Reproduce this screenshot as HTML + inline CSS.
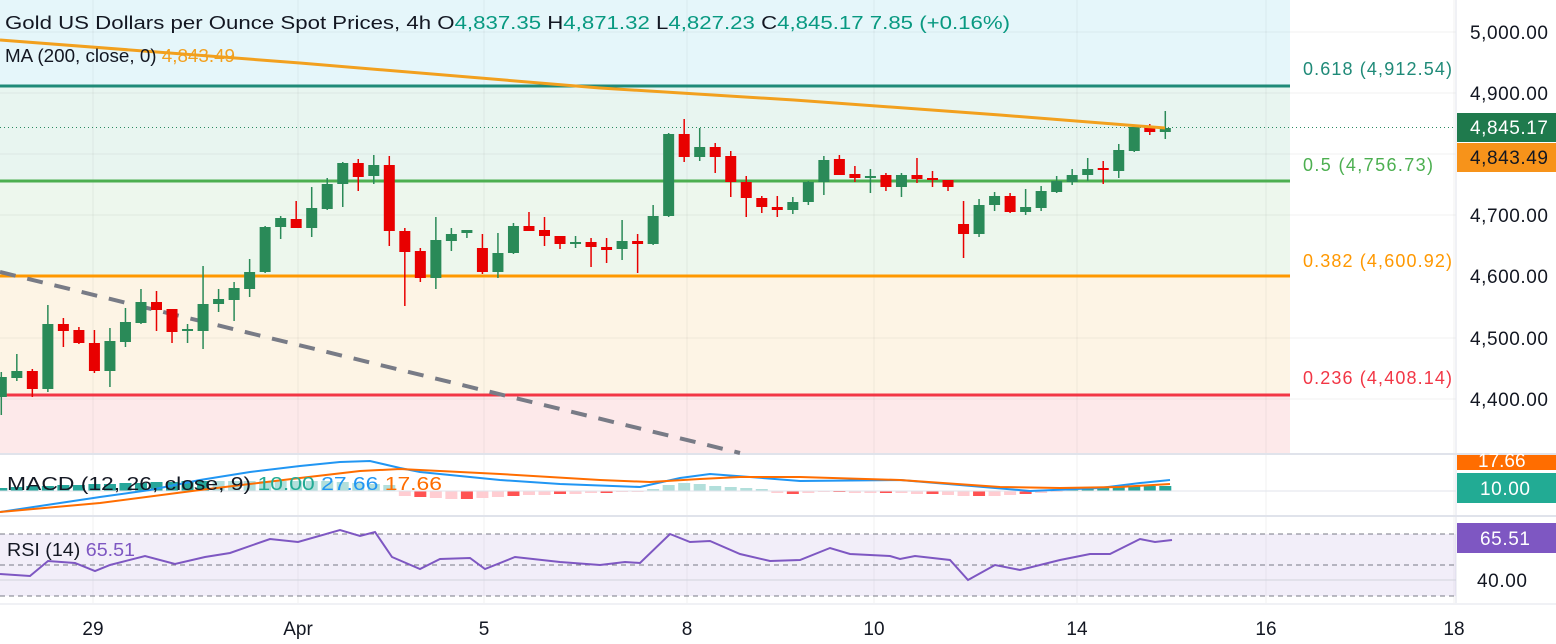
<!DOCTYPE html>
<html><head><meta charset="utf-8"><style>
body{margin:0;width:1556px;height:644px;overflow:hidden;background:#fff;font-family:"Liberation Sans",sans-serif}
svg{display:block}
</style></head><body>
<svg width="1556" height="644" xmlns="http://www.w3.org/2000/svg" font-family="Liberation Sans, sans-serif">
<rect x="0" y="0" width="1290" height="86" fill="#e5f6fa"/>
<rect x="0" y="86" width="1290" height="95" fill="#e8f5f0"/>
<rect x="0" y="181" width="1290" height="95" fill="#edf7ed"/>
<rect x="0" y="276" width="1290" height="118" fill="#fdf4e5"/>
<rect x="0" y="394" width="1290" height="59" fill="#fde9ea"/>
<g stroke="#000" stroke-opacity="0.05" stroke-width="1">
<line x1="93" y1="0" x2="93" y2="603"/><line x1="298" y1="0" x2="298" y2="603"/><line x1="484" y1="0" x2="484" y2="603"/><line x1="687" y1="0" x2="687" y2="603"/><line x1="874" y1="0" x2="874" y2="603"/><line x1="1077" y1="0" x2="1077" y2="603"/><line x1="1266" y1="0" x2="1266" y2="603"/><line x1="1454" y1="0" x2="1454" y2="603"/>
<line x1="0" y1="32" x2="1456" y2="32"/><line x1="0" y1="93" x2="1456" y2="93"/><line x1="0" y1="154" x2="1456" y2="154"/><line x1="0" y1="215" x2="1456" y2="215"/><line x1="0" y1="338" x2="1456" y2="338"/><line x1="0" y1="399" x2="1456" y2="399"/>
</g>
<line x1="1456" y1="0" x2="1456" y2="603" stroke="#e0e3eb"/>
<line x1="0" y1="454" x2="1556" y2="454" stroke="#e0e3eb" stroke-width="2"/>
<line x1="0" y1="516" x2="1556" y2="516" stroke="#e0e3eb" stroke-width="2"/>
<line x1="0" y1="604" x2="1556" y2="604" stroke="#e0e3eb"/>
<line x1="0" y1="86" x2="1290" y2="86" stroke="#1f8a78" stroke-width="3"/>
<line x1="0" y1="181" x2="1290" y2="181" stroke="#4caf50" stroke-width="3"/>
<line x1="0" y1="276" x2="1290" y2="276" stroke="#ff9800" stroke-width="3"/>
<line x1="0" y1="395" x2="1290" y2="395" stroke="#f23645" stroke-width="3"/>
<line x1="0" y1="127.5" x2="1456" y2="127.5" stroke="#2a8a60" stroke-dasharray="1,3"/>
<line x1="0" y1="272" x2="740" y2="453" stroke="#787b86" stroke-width="4" stroke-dasharray="16,12"/>
<g id="c"></g>
<path d="M0,40 L300,63 L600,88 L794,100 L1000,115 L1165,128" fill="none" stroke="#f2a01e" stroke-width="3"/>
<g font-size="18">
<text x="1303" y="75" fill="#1f8a78" textLength="149">0.618 (4,912.54)</text>
<text x="1303" y="171" fill="#4caf50" textLength="130">0.5 (4,756.73)</text>
<text x="1303" y="267" fill="#ff9800" textLength="149">0.382 (4,600.92)</text>
<text x="1303" y="384" fill="#f23645" textLength="149">0.236 (4,408.14)</text>
</g>
<g font-size="19" fill="#131722">
<text x="1470" y="39" textLength="78">5,000.00</text><text x="1470" y="100" textLength="78">4,900.00</text><text x="1470" y="222" textLength="78">4,700.00</text><text x="1470" y="283" textLength="78">4,600.00</text><text x="1470" y="345" textLength="78">4,500.00</text><text x="1470" y="406" textLength="78">4,400.00</text>
<text x="1477" y="587" textLength="50">40.00</text>
</g>
<rect x="1457" y="113" width="99" height="29" fill="#1f7a4d"/><text x="1470" y="134" font-size="19" fill="#fff" textLength="78">4,845.17</text>
<rect x="1457" y="143" width="99" height="29" fill="#f7931a"/><text x="1470" y="164" font-size="19" fill="#131722" textLength="78">4,843.49</text>
<rect x="1457" y="455" width="99" height="15" fill="#ff6d00"/><text x="1478" y="467" font-size="19" fill="#fff">17.66</text>
<rect x="1457" y="473" width="99" height="30" fill="#22ab94"/><text x="1480" y="495" font-size="19" fill="#fff" textLength="50">10.00</text>
<rect x="1457" y="523" width="99" height="30" fill="#7e57c2"/><text x="1480" y="545" font-size="19" fill="#fff" textLength="50">65.51</text>
<text x="5" y="29" font-size="18" fill="#131722" textLength="1005" lengthAdjust="spacingAndGlyphs">Gold US Dollars per Ounce Spot Prices, 4h  O<tspan fill="#089981">4,837.35</tspan>  H<tspan fill="#089981">4,871.32</tspan>  L<tspan fill="#089981">4,827.23</tspan>  C<tspan fill="#089981">4,845.17  7.85 (+0.16%)</tspan></text>
<text x="5" y="62" font-size="18" fill="#131722" textLength="230" lengthAdjust="spacingAndGlyphs">MA (200, close, 0)  <tspan fill="#f2a01e">4,843.49</tspan></text>
<g id="h"></g>
<line x1="0" y1="491" x2="1456" y2="491" stroke="#e0e3eb"/>
<path d="M0,512 L60,503 L100,497 L150,490 L200,480 L250,472 L300,466 L340,462 L370,461 L400,468 L420,472 L500,480 L560,484 L640,487 L680,478 L710,474 L750,477 L800,481 L900,480 L960,485 L1030,491 L1100,488 L1140,483 L1170,480" fill="none" stroke="#2196f3" stroke-width="2"/>
<path d="M0,512 L100,503 L200,490 L300,478 L360,471 L400,469 L500,474 L600,480 L650,482 L700,479 L740,477 L800,477 L900,480 L1000,487 L1060,488 L1120,487 L1170,484" fill="none" stroke="#ff6d00" stroke-width="2"/>
<text x="7" y="490" font-size="18" fill="#131722" textLength="435" lengthAdjust="spacingAndGlyphs">MACD (12, 26, close, 9)  <tspan fill="#22ab94">10.00</tspan>  <tspan fill="#2196f3">27.66</tspan>  <tspan fill="#ff6d00">17.66</tspan></text>
<rect x="0" y="534" width="1456" height="62" fill="#7e57c2" fill-opacity="0.1"/>
<g stroke="#787b86" stroke-dasharray="5,4"><line x1="0" y1="534" x2="1456" y2="534"/><line x1="0" y1="565" x2="1456" y2="565"/><line x1="0" y1="596" x2="1456" y2="596"/></g>
<line x1="0" y1="580" x2="1456" y2="580" stroke="#d1d4dc"/>
<polyline fill="none" stroke="#7e57c2" stroke-width="2" points="0,574 30,576 48,561 75,563 95,571 110,565 145,556 175,564 205,557 230,553 270,539 298,542 340,530 360,536 375,532 392,557 420,569 440,559 470,558 485,569 515,557 560,562 600,565 625,562 640,563 670,534 690,542 710,541 740,554 770,561 800,560 830,548 850,554 890,556 900,559 915,556 950,560 968,580 995,565 1020,570 1060,560 1090,554 1110,554 1140,539 1155,542 1172,540"/>
<text x="7" y="556" font-size="18" fill="#131722" textLength="128" lengthAdjust="spacingAndGlyphs">RSI (14)  <tspan fill="#7e57c2">65.51</tspan></text>
<g font-size="19" fill="#131722" text-anchor="middle">
<text x="93" y="635">29</text><text x="298" y="635">Apr</text><text x="484" y="635">5</text><text x="687" y="635">8</text><text x="874" y="635">10</text><text x="1077" y="635">14</text><text x="1266" y="635">16</text><text x="1454" y="635">18</text>
</g>
</svg>
<script>
var d=[
["G",377,397,372,415],["G",371,378,354,381],["R",371,389,369,397],["G",324,389,305,392],["R",324,331,318,347],["R",330,343,327,344],["R",343,371,330,373],["G",341,371,328,387],["G",322,342,308,347],["G",302,323,289,324],["R",302,310,291,331],["R",309,332,309,343],["G",329,331,324,343],["G",304,331,266,349],["G",299,304,289,312],["G",288,300,282,321],["G",272,289,259,297],["G",227,272,226,273],["G",218,227,216,239],["R",219,228,201,228],["G",208,228,187,237],["G",184,209,178,210],["G",163,184,162,207],["R",163,177,159,191],["G",165,176,155,184],["R",165,231,156,246],["R",231,252,228,306],["R",251,278,248,282],["G",240,278,217,289],["G",234,241,228,251],["G",230,233,230,238],["R",248,272,234,274],["G",253,272,233,278],["G",226,253,223,254],["R",226,231,212,231],["R",230,236,217,246],["R",236,244,236,249],["G",242,244,236,248],["R",242,247,238,267],["R",247,250,238,263],["G",241,249,220,260],["R",241,244,234,273],["G",216,244,205,245],["G",134,216,133,217],["R",134,157,119,162],["G",147,157,128,161],["R",147,157,143,173],["R",156,182,151,197],["R",182,198,176,217],["R",198,207,196,213],["R",207,210,196,217],["G",202,210,197,214],["G",182,202,181,205],["G",160,182,156,195],["R",159,175,155,175],["R",174,178,166,182],["G",176,178,169,193],["R",175,187,173,191],["G",175,187,173,197],["R",175,179,158,183],["R",178,180,171,187],["R",180,187,180,191],["R",224,234,201,258],["G",205,234,199,237],["G",196,205,192,211],["R",196,212,193,213],["G",207,212,189,215],["G",191,208,186,211],["G",181,192,176,193],["G",175,182,169,185],["G",169,175,158,181],["R",168,170,161,184],["G",150,171,144,178],["G",127,151,126,152],["R",128,132,124,135],["G",128,132,111,139]];
var s="";
d.forEach(function(c,i){var x=1.3+i*15.52,col=c[0]=="G"?"#2a8a58":"#e80000";
s+='<line x1="'+x+'" y1="'+c[3]+'" x2="'+x+'" y2="'+c[4]+'" stroke="'+col+'" stroke-width="1.5"/>';
s+='<rect x="'+(x-5.5)+'" y="'+c[1]+'" width="11" height="'+Math.max(2,c[2]-c[1])+'" fill="'+col+'"/>';});
document.getElementById("c").innerHTML=s;
var h="";
for(var i=0;i<76;i++){var x=1.3+i*15.52;
var m=[3,4,5,5,6,6,7,7,8,8,9,9,10,10,10,10,10,10,10,10,10,10,9,8,7,6,-5,-6,-7,-8,-8,-7,-6,-5,-4,-4,-3,-3,-2,-2,-1,-1,2,6,8,7,5,4,3,2,-2,-3,-2,-1,-1,-2,-2,-2,-2,-3,-3,-4,-5,-5,-5,-4,-3,-2,-1,1,2,3,4,5,5,5][i];
var col=m>0?(i<14||i>60?"#26a69a":"#b2dfdb"):(i%3==0?"#ff5252":"#ffcdd2");
if(m>0)h+='<rect x="'+(x-6)+'" y="'+(491-m)+'" width="12" height="'+m+'" fill="'+col+'"/>';
else h+='<rect x="'+(x-6)+'" y="491" width="12" height="'+(-m)+'" fill="'+col+'"/>';}
document.getElementById("h").innerHTML=h;
</script>
</body></html>
